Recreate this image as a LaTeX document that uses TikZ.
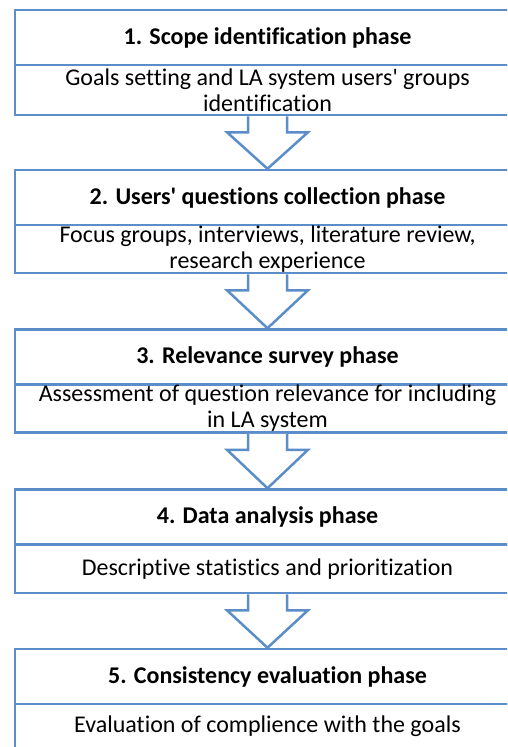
\documentclass[tikz,border=0pt]{standalone}
\usepackage{fontspec}
\setmainfont{Carlito}[Ligatures={NoCommon}]
\usetikzlibrary{calc}
\definecolor{frameblue}{HTML}{5B8EC9}
\newcommand{\apos}{\textquotesingle}
\tikzset{
  x=1pt, y=-1pt,
  phasefont/.style={font=\fontsize{24}{26}\selectfont},
  phasebox/.style={draw=frameblue, line width=2.5pt, fill=white, rectangle,
    minimum width=505pt, inner sep=0pt, align=center, phasefont},
  titlebox/.style={phasebox, minimum height=55pt, font=\fontsize{24}{26}\selectfont\bfseries},
  descbox/.style={phasebox},
  blockarrow/.style={draw=frameblue, line width=2.5pt, fill=white, line join=miter}
}
\begin{document}
\begin{tikzpicture}
\useasboundingbox (0,0) rectangle (507,747);
\clip (0,0) rectangle (507,747);

% phase 1
\node[titlebox] (t1) at (267.5,37.5) {1. Scope identification phase};
\node[descbox, minimum height=50pt] (d1) at (267.5,90) {Goals setting and LA system users\apos{} groups\\identification};
% phase 2
\node[titlebox] (t2) at (267.5,197.5) {2. Users\apos{} questions collection phase};
\node[descbox, minimum height=48pt] (d2) at (267.5,249) {Focus groups, interviews, literature review,\\research experience};
% phase 3
\node[titlebox] (t3) at (267.5,357) {3. Relevance survey phase};
\node[descbox, minimum height=48pt] (d3) at (267.5,408.5) {Assessment of question relevance for including\\in LA system};
% phase 4
\node[titlebox] (t4) at (267.5,517) {4. Data analysis phase};
\node[descbox, minimum height=48pt] (d4) at (267.5,569) {Descriptive statistics and prioritization};
% phase 5 (its lower part runs past the bottom edge)
\node[titlebox] (t5) at (267.5,676.5) {5. Consistency evaluation phase};
\node[descbox, minimum height=110pt] (d5) at (267.5,759) {};
\node[phasefont, inner sep=0pt] (d5text) at (267.5,726) {Evaluation of complience with the goals};

% hollow block arrows between phases
\foreach \a/\b in {d1/t2, d2/t3, d3/t4, d4/t5}{
  \draw[blockarrow]
    ($(\a.south)+(-19.5,0)$) -- ($(\a.south)+(-19.5,16)$) --
    ($(\a.south)+(-40.5,16)$) -- (\b.north) --
    ($(\a.south)+(40.5,16)$) -- ($(\a.south)+(19.5,16)$) --
    ($(\a.south)+(19.5,0)$);
}
\end{tikzpicture}
\end{document}
